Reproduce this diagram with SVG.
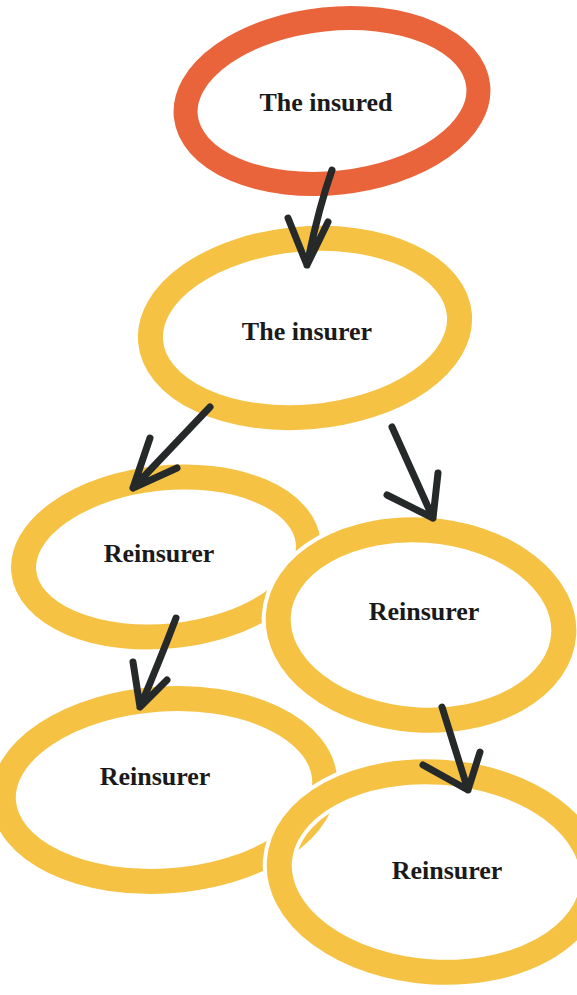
<svg xmlns="http://www.w3.org/2000/svg" width="577" height="995" viewBox="0 0 577 995">
<style>
.ring{fill:none;stroke:#F5C243;stroke-width:25}
.red{fill:none;stroke:#E9633B;stroke-width:24}
.halo{fill:none;stroke:#FFFFFF;stroke-width:33}
.lbl{font-family:"Liberation Serif","Times New Roman",serif;font-weight:bold;font-size:26px;fill:#1a1a1a;text-anchor:middle}
.arrow{fill:none;stroke:#262929;stroke-width:7;stroke-linecap:round;stroke-linejoin:round}
</style>
<rect width="577" height="995" fill="#FFFFFF"/>
<g id="node-insured">
<ellipse class="red" cx="332" cy="101" rx="147" ry="82" transform="rotate(-6 332 101)"/>
<text class="lbl" x="326" y="111">The insured</text>
</g>
<g id="node-insurer">
<ellipse class="ring" cx="305" cy="328" rx="155" ry="89" transform="rotate(-5 305 328)"/>
<text class="lbl" x="307" y="340">The insurer</text>
</g>
<g id="node-reinsurer-1">
<ellipse class="ring" cx="166" cy="557" rx="143" ry="79" transform="rotate(-6 166 557)"/>
<text class="lbl" x="159" y="562">Reinsurer</text>
</g>
<g id="node-reinsurer-2">
<ellipse class="halo" cx="421" cy="625" rx="143" ry="95" transform="rotate(4 421 625)"/>
<ellipse class="ring" cx="421" cy="625" rx="143" ry="95" transform="rotate(4 421 625)"/>
<text class="lbl" x="424" y="620">Reinsurer</text>
</g>
<g id="node-reinsurer-3">
<ellipse class="ring" cx="164" cy="790" rx="161" ry="91" transform="rotate(-4 164 790)"/>
<text class="lbl" x="155" y="785">Reinsurer</text>
</g>
<g id="node-reinsurer-4">
<ellipse class="halo" cx="436" cy="872" rx="157" ry="100" transform="rotate(4 436 872)"/>
<ellipse class="ring" cx="436" cy="872" rx="157" ry="100" transform="rotate(4 436 872)"/>
<text class="lbl" x="447" y="879">Reinsurer</text>
</g>
<g id="connectors">
<path class="arrow" d="M332,170 Q318,210 307,265 M288,218 L307,265 L328,222"/>
<path class="arrow" d="M210,407 L133,488 M150,438 L133,488 L177,468"/>
<path class="arrow" d="M392,427 L433,518 M438,473 L433,518 L387,495"/>
<path class="arrow" d="M176,618 Q160,660 140,707 M133,662 L140,707 L167,680"/>
<path class="arrow" d="M442,707 L468,790 M480,752 L468,790 L423,765"/>
</g>
</svg>
